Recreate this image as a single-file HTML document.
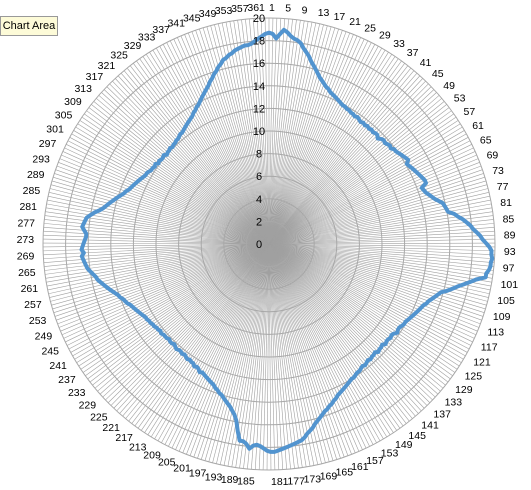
<!DOCTYPE html>
<html><head><meta charset="utf-8"><style>
html,body{margin:0;padding:0;background:#fff;width:531px;height:490px;overflow:hidden}
svg{display:block}
#tip{position:absolute;left:0;top:16px;width:56px;height:18px;border:1px solid #999;background:#fdfbd8;font:11px "Liberation Sans",sans-serif;line-height:18px;text-align:center;color:#000}
</style></head><body>
<svg id="chart" width="531" height="490" xmlns="http://www.w3.org/2000/svg"></svg>
<div id="tip">Chart Area</div>
<script>
const values = [
18.7,18.6,18.2,18.6,19.0,18.8,18.5,18.3,18.2,18.0,
17.6,17.3,17.0,16.6,16.3,16.0,15.7,15.4,15.2,15.0,
14.8,14.7,14.5,14.4,14.3,14.2,14.1,14.0,13.9,13.9,
13.8,13.8,13.7,13.7,13.6,13.7,13.6,13.5,13.6,13.5,
13.6,13.5,13.6,13.5,13.6,13.6,13.4,13.6,13.7,13.6,
13.7,13.8,13.7,13.9,13.9,14.0,14.1,14.2,14.3,14.4,
14.1,14.2,14.3,14.4,14.5,14.6,14.7,14.8,14.9,14.9,
14.4,14.5,14.6,14.8,15.0,15.2,15.5,15.8,15.9,16.0,
16.1,16.6,16.9,17.3,17.6,17.9,18.1,18.4,18.7,18.9,
19.2,19.5,19.7,19.7,19.8,19.7,19.7,19.6,19.4,19.4,
18.6,18.1,17.6,17.1,16.7,16.3,15.8,15.6,15.4,15.2,
15.0,14.9,14.7,14.6,14.5,14.4,14.3,14.2,14.1,14.0,
13.9,13.9,13.8,13.7,13.7,13.8,13.6,13.5,13.6,13.5,
13.5,13.6,13.4,13.5,13.5,13.6,13.4,13.5,13.5,13.6,
13.5,13.6,13.7,13.6,13.7,13.8,13.8,13.9,14.0,14.0,
14.1,14.2,14.3,14.4,14.5,14.6,14.7,14.9,15.0,15.2,
15.3,15.5,15.6,15.8,16.0,16.2,16.4,16.7,16.9,17.1,
17.4,17.6,17.7,17.8,17.9,18.0,18.1,18.2,18.3,18.4,
18.4,18.3,18.1,17.9,17.8,17.9,18.2,17.8,17.6,17.6,
16.8,15.9,15.4,15.1,14.8,14.6,14.4,14.2,14.0,13.9,
13.7,13.6,13.4,13.3,13.2,13.1,13.0,12.9,12.8,12.9,
12.7,12.6,12.7,12.5,12.5,12.4,12.5,12.4,12.3,12.4,
12.3,12.3,12.4,12.3,12.2,12.3,12.3,12.2,12.3,12.3,
12.3,12.4,12.3,12.4,12.4,12.5,12.5,12.6,12.6,12.7,
12.7,12.8,12.9,13.0,13.1,13.2,13.3,13.4,13.6,13.7,
13.8,14.0,14.1,14.3,14.5,14.7,14.9,15.1,15.3,15.5,
15.6,15.8,16.0,16.2,16.3,16.4,16.5,16.6,16.4,16.6,
16.5,16.4,16.3,16.2,16.2,16.4,16.6,16.5,16.4,16.3,
16.0,15.7,15.3,15.0,14.8,14.6,14.4,14.2,14.0,13.8,
13.6,13.5,13.3,13.2,13.1,13.0,12.9,12.8,12.7,12.6,
12.5,12.5,12.4,12.3,12.3,12.2,12.3,12.1,12.2,12.1,
12.1,12.2,12.0,12.1,12.1,12.2,12.1,12.2,12.2,12.3,
12.3,12.4,12.5,12.5,12.6,12.7,12.8,12.9,13.0,13.1,
13.2,13.4,13.5,13.7,13.8,14.0,14.2,14.4,14.6,14.8,
15.0,15.3,15.5,15.8,16.0,16.3,16.5,16.8,16.9,17.1,
17.2,17.4,17.5,17.6,17.7,17.7,17.8,18.0,18.2,18.4,18.6
];
const categories = values.map((v,i)=>i+1);
const valueTicks = [0,2,4,6,8,10,12,14,16,18,20];
const labelStep = 4;

const NS="http://www.w3.org/2000/svg";
const svg=document.getElementById('chart');
const cx=269, cy=244, R=226, vMax=20;
const N=categories.length;
function ang(i){return i*2*Math.PI/N;}
function rad(v){return v/vMax*R;}
function pt(i,v){const a=ang(i),r=rad(v);return [cx+r*Math.sin(a),cy-r*Math.cos(a)];}
function mk(tag,attrs){const e=document.createElementNS(NS,tag);for(const k in attrs)e.setAttribute(k,attrs[k]);return e;}

const gSpokes=mk('g',{stroke:'#a0a0a0','stroke-width':'0.6'});


svg.appendChild(gSpokes);
categories.forEach((c,i)=>{
  const [x,y]=pt(i,vMax);
  const l=mk('line',{x1:cx,y1:cy,x2:x.toFixed(2),y2:y.toFixed(2)});
  
  
  gSpokes.appendChild(l);
});
const gRings=mk('g',{stroke:'#a8a8a8','stroke-width':'1',fill:'none'});


svg.appendChild(gRings);
valueTicks.forEach(t=>{
  if(t===0)return;
  const c=mk('circle',{cx:cx,cy:cy,r:rad(t)});
  
  
  gRings.appendChild(c);
});
const d=values.map((v,i)=>{const [x,y]=pt(i,v);return (i?'L':'M')+x.toFixed(2)+' '+y.toFixed(2);}).join(' ')+' Z';
const path=mk('path',{d:d,fill:'none',stroke:'#5294cf','stroke-width':'4','stroke-linejoin':'round'});


svg.appendChild(path);
valueTicks.forEach(t=>{
  const tx=mk('text',{x:259,y:(cy-rad(t)+4).toFixed(1),'text-anchor':'middle','font-family':'Liberation Sans, sans-serif','font-size':'11',fill:'#000'});
  tx.textContent=t;
  
  
  svg.appendChild(tx);
});
categories.forEach((c,i)=>{
  if(i%labelStep!==0)return;
  const a=ang(i),r=R+6;
  const s=Math.sin(a),co=Math.cos(a);
  const px=cx+r*s,py=cy-r*co;
  const anchor = s>=-0.001 ? 'start' : 'end';
  const tx=mk('text',{'text-anchor':anchor,'font-family':'Liberation Sans, sans-serif','font-size':'10.5',fill:'#000'});
  tx.textContent=c;
  
  
  tx.setAttribute('x',(px+s*3).toFixed(1));
  tx.setAttribute('y',(py-co*5+4).toFixed(1));
  svg.appendChild(tx);
});
</script>
</body></html>
